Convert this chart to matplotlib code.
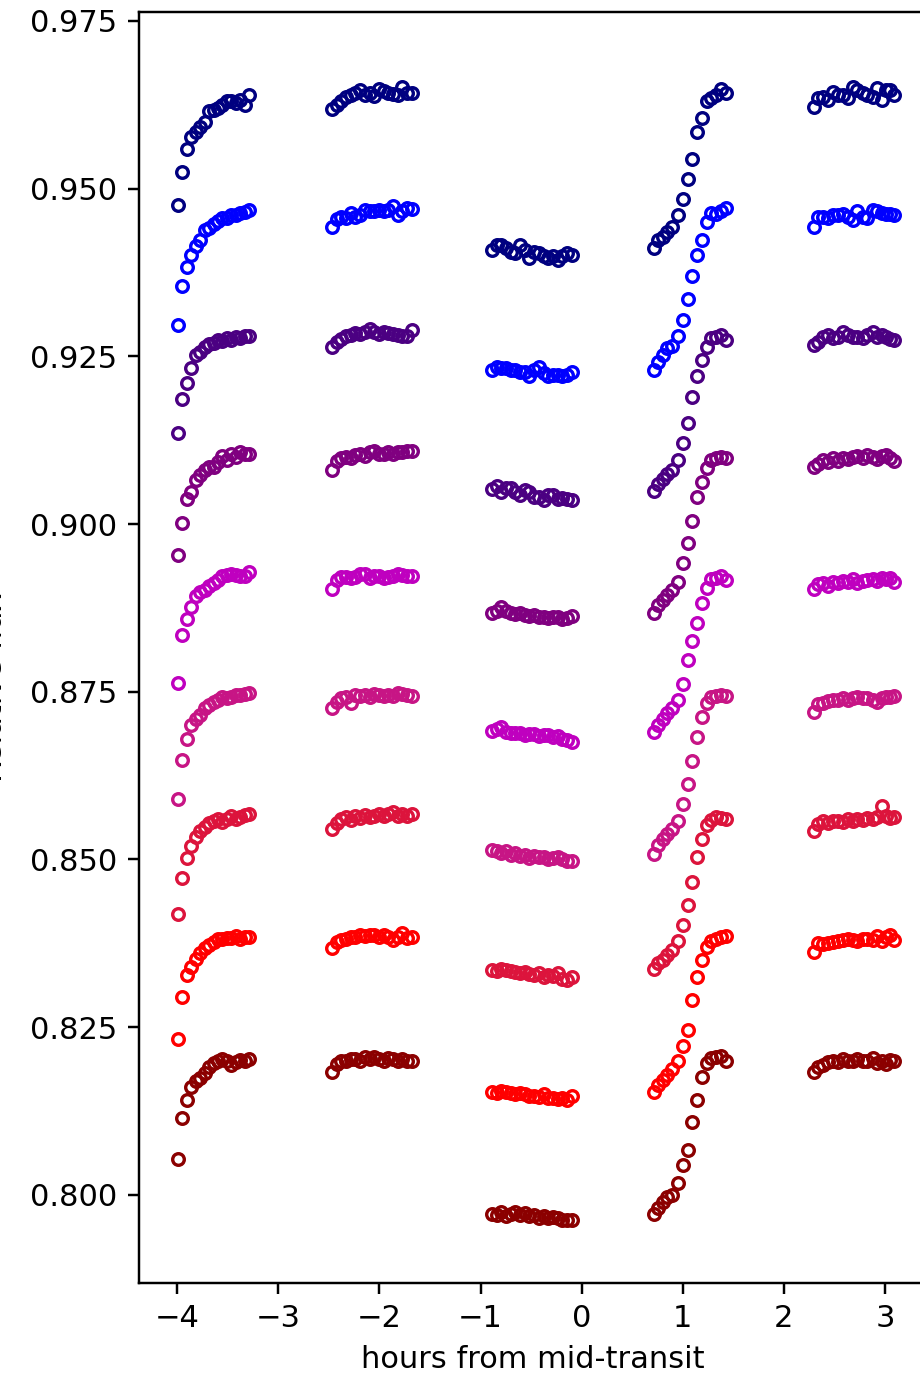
"""
stacked spectroscopic light curves, open circles per wavelength channel
"""

import numpy as np
import matplotlib.pyplot as plt

# hours from mid-transit, one list per HST orbit
t_orb1 = [-3.992, -3.948, -3.904, -3.860, -3.816, -3.773, -3.729, -3.685, -3.641,
          -3.597, -3.553, -3.509, -3.465, -3.421, -3.378, -3.334, -3.290]
t_orb2 = [-2.469, -2.423, -2.376, -2.330, -2.284, -2.237, -2.191, -2.145, -2.098,
          -2.052, -2.006, -1.959, -1.913, -1.867, -1.820, -1.774, -1.728, -1.681]
t_orb3 = [-0.889, -0.842, -0.796, -0.749, -0.703, -0.656, -0.610, -0.563, -0.517,
          -0.470, -0.424, -0.377, -0.331, -0.284, -0.238, -0.191, -0.145, -0.098]
t_orb4 = [0.716, 0.759, 0.802, 0.848, 0.897, 0.951, 1.000, 1.049,
          1.095, 1.138, 1.188, 1.237, 1.280, 1.329, 1.376, 1.429]
t_orb5 = [2.299, 2.341, 2.385, 2.440, 2.490, 2.539, 2.589, 2.638, 2.682,
          2.727, 2.781, 2.826, 2.879, 2.925, 2.968, 3.011, 3.050, 3.090]
orbits = [t_orb1, t_orb2, t_orb3, t_orb4, t_orb5]

colors = ["navy", "blue", "indigo", "purple", "m",
          "mediumvioletred", "crimson", "red", "darkred"]

# flux (x 1e4, offsets included), one list per orbit
flux_navy = [
    [9476, 9525, 9559, 9577, 9585, 9592, 9600, 9615, 9617, 9620, 9625, 9630, 9630, 9628, 9632, 9625, 9640],
    [9618, 9625, 9630, 9636, 9640, 9643, 9647, 9640, 9642, 9638, 9648, 9646, 9643, 9641, 9640, 9652, 9642, 9643],
    [9409, 9416, 9416, 9411, 9406, 9404, 9416, 9409, 9396, 9406, 9404, 9399, 9396, 9399, 9394, 9399, 9404, 9401],
    [9411, 9423, 9428, 9436, 9443, 9461, 9484, 9514, 9544, 9584, 9606, 9630, 9635, 9640, 9648, 9643],
    [9622, 9635, 9637, 9632, 9644, 9640, 9640, 9635, 9652, 9647, 9642, 9640, 9637, 9650, 9632, 9647, 9647, 9640],
]
flux_blue = [
    [9296, 9355, 9383, 9401, 9414, 9423, 9438, 9441, 9448, 9451, 9456, 9456, 9461, 9461, 9463, 9465, 9468],
    [9443, 9455, 9458, 9456, 9463, 9458, 9461, 9468, 9466, 9466, 9468, 9466, 9468, 9474, 9461, 9466, 9471, 9470],
    [9230, 9234, 9232, 9232, 9230, 9230, 9227, 9227, 9220, 9230, 9234, 9225, 9220, 9222, 9222, 9220, 9222, 9226],
    [9229, 9242, 9252, 9262, 9265, 9280, 9304, 9335, 9370, 9401, 9424, 9450, 9463, 9462, 9466, 9471],
    [9443, 9458, 9458, 9456, 9461, 9461, 9462, 9458, 9453, 9466, 9458, 9456, 9468, 9466, 9463, 9462, 9462, 9461],
]
flux_indigo = [
    [9135, 9187, 9210, 9232, 9252, 9257, 9264, 9268, 9270, 9274, 9273, 9277, 9275, 9279, 9278, 9280, 9280],
    [9264, 9272, 9276, 9280, 9282, 9285, 9284, 9286, 9290, 9286, 9284, 9287, 9285, 9283, 9282, 9281, 9280, 9289],
    [9052, 9056, 9048, 9053, 9053, 9048, 9043, 9051, 9048, 9041, 9041, 9036, 9043, 9043, 9038, 9039, 9038, 9036],
    [9049, 9060, 9067, 9074, 9081, 9095, 9121, 9151, 9190, 9220, 9245, 9264, 9277, 9279, 9282, 9275],
    [9267, 9272, 9279, 9282, 9277, 9279, 9287, 9282, 9279, 9279, 9277, 9282, 9287, 9279, 9282, 9279, 9276, 9274],
]
flux_purple = [
    [8954, 9002, 9037, 9048, 9066, 9073, 9081, 9085, 9085, 9093, 9101, 9096, 9105, 9100, 9108, 9104, 9104],
    [9080, 9094, 9099, 9100, 9098, 9103, 9104, 9102, 9108, 9109, 9104, 9104, 9107, 9105, 9108, 9107, 9109, 9109],
    [8867, 8870, 8877, 8871, 8868, 8866, 8868, 8864, 8863, 8864, 8862, 8862, 8860, 8862, 8861, 8858, 8860, 8863],
    [8867, 8879, 8886, 8894, 8902, 8913, 8942, 8972, 9004, 9041, 9063, 9084, 9095, 9099, 9100, 9098],
    [9085, 9090, 9095, 9092, 9098, 9094, 9098, 9097, 9100, 9102, 9099, 9103, 9100, 9097, 9102, 9103, 9098, 9094],
]
flux_m = [
    [8763, 8835, 8858, 8877, 8892, 8899, 8902, 8907, 8912, 8917, 8922, 8924, 8926, 8924, 8922, 8922, 8929],
    [8903, 8917, 8921, 8921, 8919, 8921, 8926, 8925, 8920, 8922, 8923, 8920, 8921, 8922, 8926, 8924, 8922, 8922],
    [8692, 8694, 8697, 8690, 8688, 8688, 8689, 8686, 8687, 8687, 8684, 8685, 8686, 8683, 8684, 8680, 8678, 8675],
    [8690, 8700, 8710, 8718, 8725, 8738, 8762, 8798, 8825, 8853, 8883, 8904, 8918, 8920, 8922, 8917],
    [8903, 8910, 8912, 8908, 8913, 8912, 8915, 8913, 8918, 8912, 8915, 8916, 8918, 8915, 8920, 8918, 8920, 8914],
]
flux_mvr = [
    [8590, 8648, 8680, 8700, 8710, 8715, 8725, 8730, 8735, 8738, 8742, 8740, 8742, 8745, 8745, 8747, 8748],
    [8725, 8735, 8741, 8742, 8733, 8745, 8744, 8745, 8742, 8746, 8745, 8743, 8745, 8744, 8748, 8746, 8745, 8743],
    [8514, 8512, 8510, 8512, 8507, 8510, 8505, 8507, 8502, 8505, 8503, 8503, 8500, 8502, 8503, 8500, 8498, 8497],
    [8508, 8522, 8530, 8538, 8546, 8557, 8582, 8612, 8647, 8683, 8712, 8733, 8742, 8743, 8745, 8744],
    [8720, 8732, 8733, 8736, 8738, 8737, 8741, 8738, 8740, 8742, 8740, 8741, 8738, 8735, 8740, 8742, 8742, 8743],
]
flux_crimson = [
    [8418, 8472, 8502, 8520, 8533, 8543, 8549, 8554, 8558, 8560, 8556, 8561, 8565, 8560, 8563, 8566, 8568],
    [8545, 8555, 8560, 8563, 8559, 8565, 8562, 8566, 8563, 8565, 8568, 8565, 8568, 8570, 8565, 8568, 8565, 8568],
    [8335, 8334, 8337, 8335, 8333, 8332, 8330, 8332, 8329, 8328, 8331, 8325, 8328, 8326, 8330, 8321, 8320, 8325],
    [8337, 8345, 8350, 8357, 8365, 8378, 8402, 8432, 8467, 8503, 8530, 8552, 8559, 8563, 8562, 8560],
    [8543, 8553, 8557, 8555, 8557, 8558, 8556, 8560, 8558, 8560, 8559, 8562, 8560, 8563, 8580, 8565, 8562, 8563],
]
flux_red = [
    [8232, 8295, 8327, 8340, 8352, 8360, 8368, 8372, 8377, 8382, 8382, 8383, 8383, 8386, 8382, 8385, 8384],
    [8368, 8377, 8380, 8382, 8385, 8385, 8387, 8386, 8387, 8387, 8385, 8388, 8385, 8380, 8384, 8391, 8383, 8385],
    [8153, 8152, 8155, 8153, 8152, 8150, 8152, 8150, 8148, 8148, 8146, 8150, 8145, 8145, 8143, 8144, 8142, 8147],
    [8154, 8164, 8171, 8178, 8187, 8199, 8222, 8245, 8290, 8325, 8350, 8370, 8379, 8382, 8385, 8386],
    [8362, 8375, 8374, 8376, 8377, 8379, 8380, 8382, 8380, 8378, 8381, 8382, 8380, 8386, 8378, 8385, 8388, 8380],
]
flux_darkred = [
    [8054, 8114, 8141, 8161, 8169, 8174, 8181, 8191, 8196, 8199, 8203, 8199, 8194, 8198, 8201, 8200, 8202],
    [8183, 8195, 8199, 8200, 8202, 8203, 8199, 8205, 8203, 8206, 8203, 8200, 8204, 8202, 8199, 8202, 8200, 8200],
    [7971, 7970, 7975, 7969, 7972, 7975, 7970, 7973, 7968, 7970, 7966, 7969, 7965, 7967, 7965, 7963, 7962, 7962],
    [7972, 7980, 7990, 7997, 8000, 8017, 8045, 8067, 8108, 8141, 8175, 8196, 8204, 8205, 8207, 8200],
    [8183, 8190, 8194, 8198, 8200, 8198, 8202, 8199, 8200, 8202, 8199, 8200, 8204, 8197, 8200, 8195, 8201, 8200],
]
all_flux = [flux_navy, flux_blue, flux_indigo, flux_purple, flux_m,
            flux_mvr, flux_crimson, flux_red, flux_darkred]

dpi = 220
fig = plt.figure(figsize=(920 / dpi, 1375 / dpi), dpi=dpi)
ax = fig.add_axes([139 / 920, 92.3 / 1375, 788 / 920, 1270.7 / 1375])

for col, flux in zip(colors, all_flux):
    for t, f in zip(orbits, flux):
        ax.plot(t, np.array(f) / 1e4, 'o', mfc='none', mec=col, ms=3.8, mew=1.1)

ax.set_xlim(-4.378, 3.416)
ax.set_ylim(0.7869, 0.97633)
ax.set_yticks([0.800, 0.825, 0.850, 0.875, 0.900, 0.925, 0.950, 0.975])
ax.set_yticklabels(["0.800", "0.825", "0.850", "0.875", "0.900", "0.925", "0.950", "0.975"])
ax.set_xlabel("hours from mid-transit")

# y label sits almost entirely off the left edge of the canvas, as in the original
fig.text(8 / 920, 0.5, "Relative flux", rotation=90, ha='right', va='center')

fig.savefig("out.png", dpi=dpi)
